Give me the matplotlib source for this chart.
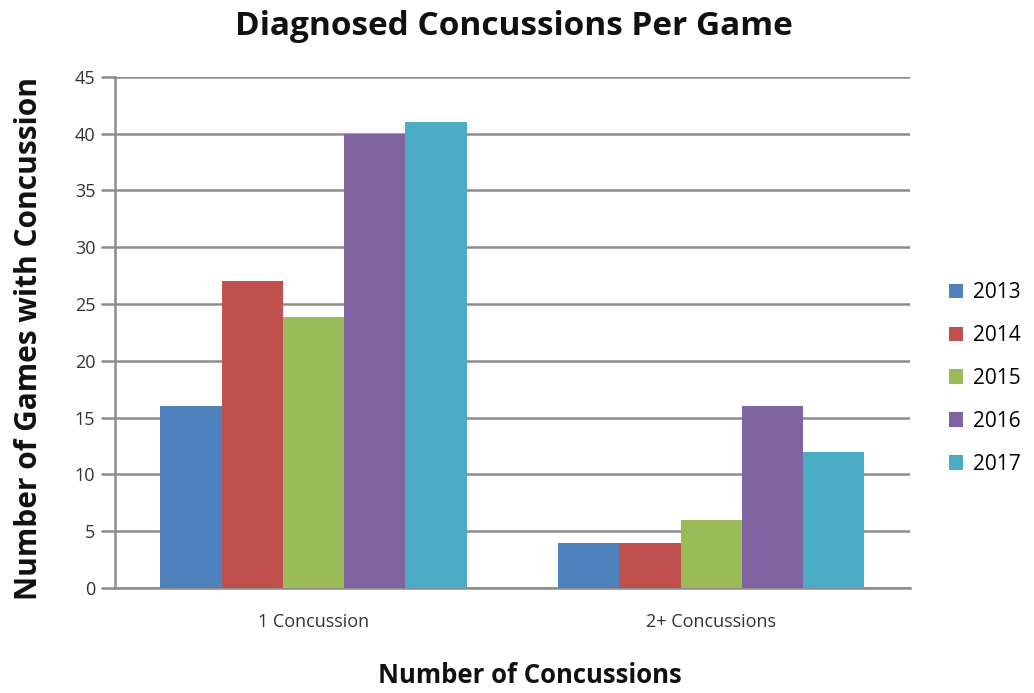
import matplotlib
matplotlib.use("Agg")
import matplotlib.pyplot as plt
import numpy as np

categories = ["1 Concussion", "2+ Concussions"]
years = ["2013", "2014", "2015", "2016", "2017"]
values = {
    "2013": [16, 4],
    "2014": [27, 4],
    "2015": [23.9, 6],
    "2016": [40, 16],
    "2017": [41, 12],
}
colors = ["#4F81BD", "#C0504D", "#9BBB59", "#8064A2", "#4BACC6"]
yticks = list(range(0, 50, 5))

plt.rcParams['font.family'] = ['Open Sans', 'DejaVu Sans']

fig = plt.figure(figsize=(10.34, 6.93), dpi=100)
ax = fig.add_axes([0.111, 0.1515, 0.769, 0.7375])

x = np.arange(len(categories))
bw = 0.154
for i, (yr, c) in enumerate(zip(years, colors)):
    ax.bar(x + (i - 2) * bw, values[yr], width=bw, color=c, label=yr, zorder=3)

ax.set_xlim(-0.5, 1.5)
ax.set_ylim(0, 45)
ax.set_yticks(yticks)
ax.set_xticks(x)
ax.set_xticklabels(categories)
ax.yaxis.grid(True, color="#8C8C8C", linewidth=1.8, zorder=0)
for s in ["top", "right"]:
    ax.spines[s].set_visible(False)
ax.spines["left"].set_color("#8C8C8C")
ax.spines["left"].set_linewidth(1.8)
ax.spines["bottom"].set_color("#8C8C8C")
ax.spines["bottom"].set_linewidth(1.8)
ax.tick_params(axis="y", length=10, width=1.8, color="#8C8C8C", labelsize=13, labelcolor="#333333", pad=4)
ax.tick_params(axis="x", length=0, labelsize=13, labelcolor="#333333", pad=18)

fig.text(0.497, 0.962, "Diagnosed Concussions Per Game", ha="center", va="center",
         fontsize=24, fontweight="bold", color="#111111")
fig.text(0.028, 0.511, "Number of Games with Concussion", ha="center", va="center",
         rotation=90, fontsize=21.5, fontweight="bold", color="#111111")
fig.text(0.512, 0.025, "Number of Concussions", ha="center", va="center",
         fontsize=18.5, fontweight="bold", color="#111111")

leg = ax.legend(loc="center left", bbox_to_anchor=(1.025, 0.41), frameon=False,
                fontsize=15, handlelength=0.7, handleheight=0.7, labelspacing=1.05,
                handletextpad=0.45)

fig.savefig("out.png", dpi=100)
